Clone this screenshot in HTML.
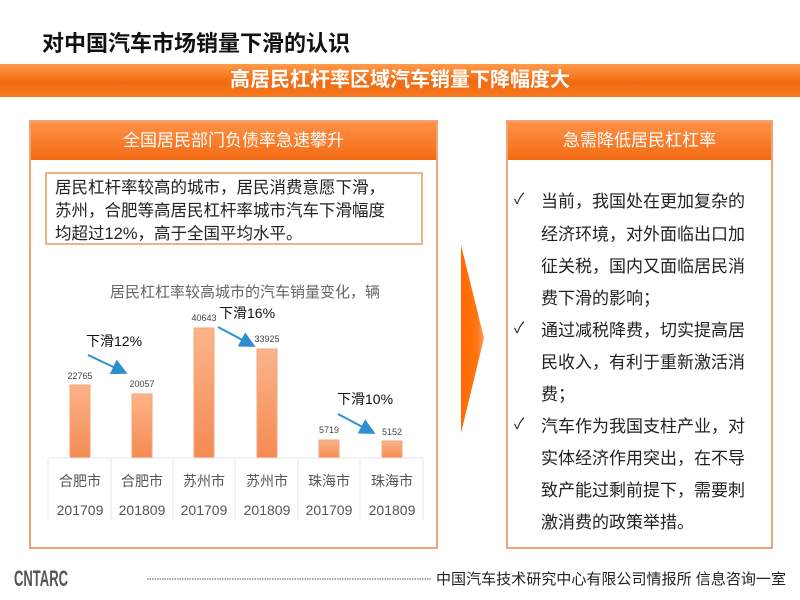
<!DOCTYPE html>
<html><head><meta charset="utf-8"><style>
*{margin:0;padding:0;box-sizing:border-box}
body{width:800px;height:600px;position:relative;background:#fff;font-family:"Liberation Sans","Noto Sans CJK SC",sans-serif;overflow:hidden}
.a{position:absolute}
.title{left:42px;top:26px;font-size:22px;font-weight:bold;color:#111}
.band{left:0;top:64px;width:800px;height:33px;background:linear-gradient(#ff9a4a,#f26a10 55%,#f5781f);color:#fff;font-size:20px;font-weight:bold;text-align:center;line-height:33px}
.panel{border:2px solid #f0a47a}
.hdr{background:linear-gradient(#ff9248,#f26a12);color:#fff;font-size:17px;text-align:center;line-height:38px;height:38px}
.box{left:45px;top:172px;width:378px;height:73px;border:2px solid #f0b08a;font-size:16.5px;line-height:23px;padding:3px 8px;color:#222}
.rt{left:541px;font-size:17px;color:#222;white-space:nowrap}
.ck{left:514px;font-size:15px;color:#222}
</style></head><body>
<div class="a title">对中国汽车市场销量下滑的认识</div>
<div class="a band">高居民杠杆率区域汽车销量下降幅度大</div>

<div class="a panel" style="left:29px;top:120px;width:409px;height:429px"><div class="hdr">全国居民部门负债率急速攀升</div></div>
<div class="a box">居民杠杆率较高的城市，居民消费意愿下滑，<br>苏州，合肥等高居民杠杆率城市汽车下滑幅度<br>均超过12%，高于全国平均水平。</div>

<div class="a panel" style="left:506px;top:120px;width:267px;height:429px"><div class="hdr">急需降低居民杠杠率</div></div>

<svg class="a" style="left:0;top:0" width="800" height="600">
<defs>
<linearGradient id="bg" x1="0" x2="0" y1="0" y2="1"><stop offset="0" stop-color="#fbb48a"/><stop offset="1" stop-color="#f58a52"/></linearGradient>
<linearGradient id="tg" x1="0" x2="1"><stop offset="0" stop-color="#ff6a00"/><stop offset="0.7" stop-color="#ff7510"/><stop offset="1" stop-color="#f9a060"/></linearGradient>
<marker id="ar" markerWidth="8" markerHeight="8" refX="6" refY="4" orient="auto"><path d="M0,0 L8,4 L0,8 z" fill="#2e8fd0"/></marker>
</defs>
<polygon points="461,245 484,338 461,433" fill="url(#tg)"/>
<text x="245" y="297" font-size="15" fill="#666" text-anchor="middle" font-family="Liberation Sans,Noto Sans CJK SC,sans-serif">居民杠杠率较高城市的汽车销量变化，辆</text>
<g fill="url(#bg)" stroke="#f5a57a" stroke-width="1">
<rect x="70" y="385" width="20" height="73"/>
<rect x="132" y="394" width="20" height="64"/>
<rect x="194" y="328" width="20" height="130"/>
<rect x="257" y="349" width="20" height="109"/>
<rect x="319" y="440" width="20" height="18"/>
<rect x="382" y="441" width="20" height="17"/>
</g>
<g font-size="9" fill="#444" text-anchor="middle" font-family="Liberation Sans,sans-serif">
<text x="80" y="379">22765</text><text x="142" y="387">20057</text><text x="204" y="321">40643</text>
<text x="267" y="342">33925</text><text x="329" y="433">5719</text><text x="392" y="435">5152</text>
</g>
<g font-size="14" fill="#111" font-family="Liberation Sans,Noto Sans CJK SC,sans-serif">
<text x="86" y="346">下滑12%</text><text x="219" y="318">下滑16%</text><text x="337" y="404">下滑10%</text>
</g>
<g stroke="#2e8fd0" stroke-width="2" marker-end="url(#ar)">
<line x1="88" y1="355" x2="124" y2="372"/>
<line x1="218" y1="327" x2="252" y2="345"/>
<line x1="338" y1="414" x2="372" y2="432"/>
</g>
<g stroke="#e6e6e6" stroke-width="1">
<line x1="48" y1="458" x2="423" y2="458"/>
<line x1="48" y1="458" x2="48" y2="520"/><line x1="111" y1="458" x2="111" y2="520"/><line x1="173" y1="458" x2="173" y2="520"/>
<line x1="235" y1="458" x2="235" y2="520"/><line x1="298" y1="458" x2="298" y2="520"/><line x1="360" y1="458" x2="360" y2="520"/><line x1="423" y1="458" x2="423" y2="520"/>
</g>
<g font-size="14" fill="#555" text-anchor="middle" font-family="Liberation Sans,Noto Sans CJK SC,sans-serif">
<text x="80" y="486">合肥市</text><text x="142" y="486">合肥市</text><text x="204" y="486">苏州市</text>
<text x="267" y="486">苏州市</text><text x="329" y="486">珠海市</text><text x="392" y="486">珠海市</text>
<text x="80" y="515">201709</text><text x="142" y="515">201809</text><text x="204" y="515">201709</text>
<text x="267" y="515">201809</text><text x="329" y="515">201709</text><text x="392" y="515">201809</text>
</g>
<text x="14" y="586" font-size="22" font-weight="bold" fill="#555" font-family="Liberation Sans,sans-serif" textLength="54" lengthAdjust="spacingAndGlyphs">CNTARC</text>
<line x1="147" y1="579" x2="432" y2="579" stroke="#555" stroke-width="1" stroke-dasharray="1.5,1"/>
<text x="436" y="584" font-size="15" fill="#222" font-family="Liberation Sans,Noto Sans CJK SC,sans-serif" textLength="350" lengthAdjust="spacingAndGlyphs">中国汽车技术研究中心有限公司情报所  信息咨询一室</text>
</svg>

<div class="a ck" style="top:188px">✓</div>
<div class="a ck" style="top:317px">✓</div>
<div class="a ck" style="top:413px">✓</div>
<div class="a rt" style="top:187px">当前，我国处在更加复杂的</div>
<div class="a rt" style="top:220px">经济环境，对外面临出口加</div>
<div class="a rt" style="top:252px">征关税，国内又面临居民消</div>
<div class="a rt" style="top:284px">费下滑的影响；</div>
<div class="a rt" style="top:316px">通过减税降费，切实提高居</div>
<div class="a rt" style="top:348px">民收入，有利于重新激活消</div>
<div class="a rt" style="top:380px">费；</div>
<div class="a rt" style="top:412px">汽车作为我国支柱产业，对</div>
<div class="a rt" style="top:444px">实体经济作用突出，在不导</div>
<div class="a rt" style="top:476px">致产能过剩前提下，需要刺</div>
<div class="a rt" style="top:508px">激消费的政策举措。</div>
</body></html>
